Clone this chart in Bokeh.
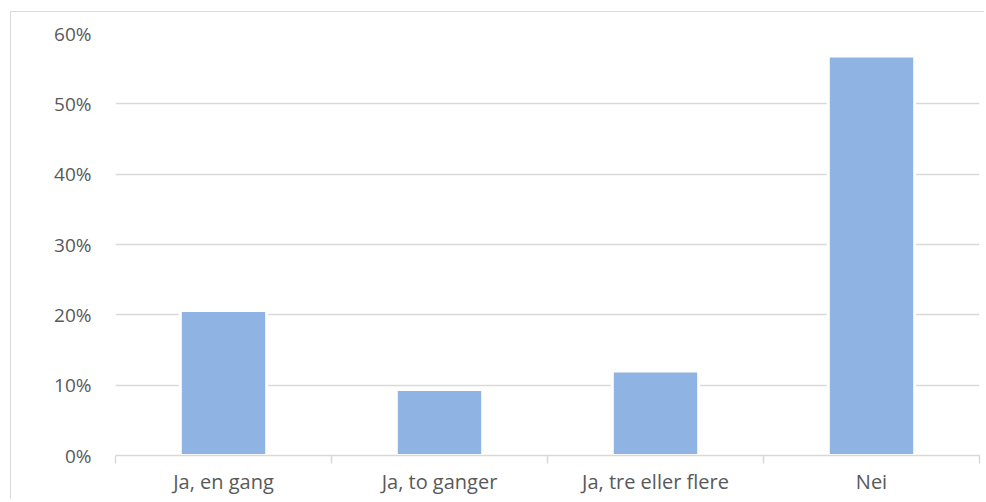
from bokeh.plotting import figure
from bokeh.models import FixedTicker, NumeralTickFormatter, Range1d, ColumnDataSource
from bokeh.embed import file_html
from bokeh.resources import INLINE

categories = ["Ja, en gang", "Ja, to ganger", "Ja, tre eller flere", "Nei"]
values = [0.206, 0.094, 0.120, 0.568]
y_ticks = [0.0, 0.1, 0.2, 0.3, 0.4, 0.5, 0.6]

xpos = [i + 0.5 for i in range(len(categories))]
src = ColumnDataSource(dict(x=xpos, top=values))

W, H = 974, 488
p = figure(width=W, height=H, output_backend="svg", toolbar_location=None,
           x_range=Range1d(0, len(categories)), y_range=Range1d(0, 0.6),
           min_border_left=104, min_border_right=W - 968,
           min_border_top=21, min_border_bottom=H - 443)
p.styles = {"border-top": "1px solid #d9d9d9", "border-left": "1px solid #d9d9d9",
            "transform": "translate(10px, 11px)"}
p.outline_line_color = None
p.background_fill_color = "white"
p.border_fill_color = "white"

p.vbar(x="x", top="top", width=0.4, source=src, fill_color="#8FB4E3",
       line_color="white", line_width=3)

font = "Open Sans"
tc = "#595959"

p.yaxis.ticker = FixedTicker(ticks=y_ticks)
p.yaxis.formatter = NumeralTickFormatter(format="0%")
p.yaxis.axis_line_color = None
p.yaxis.major_tick_line_color = None
p.yaxis.minor_tick_line_color = None
p.yaxis.major_label_text_font = font
p.yaxis.major_label_text_font_size = "19px"
p.yaxis.major_label_text_color = tc
p.yaxis.major_label_standoff = 18

p.xaxis.ticker = FixedTicker(ticks=xpos, minor_ticks=[0, 1, 2, 3, 4])
p.xaxis.major_label_overrides = {x: c for x, c in zip(xpos, categories)}
p.xaxis.axis_line_color = "#d9d9d9"
p.xaxis.axis_line_width = 1.5
p.xaxis.major_tick_line_color = None
p.xaxis.minor_tick_line_color = "#d9d9d9"
p.xaxis.minor_tick_line_width = 1.5
p.xaxis.minor_tick_out = 8
p.xaxis.minor_tick_in = 0
p.xaxis.major_label_text_font = font
p.xaxis.major_label_text_font_size = "20px"
p.xaxis.major_label_text_color = tc
p.xaxis.major_label_standoff = 4

p.xgrid.grid_line_color = None
p.ygrid.ticker = FixedTicker(ticks=y_ticks[1:])
p.ygrid.grid_line_color = "#d9d9d9"
p.ygrid.grid_line_width = 1.5

open("out.html", "w").write(file_html(p, INLINE))
